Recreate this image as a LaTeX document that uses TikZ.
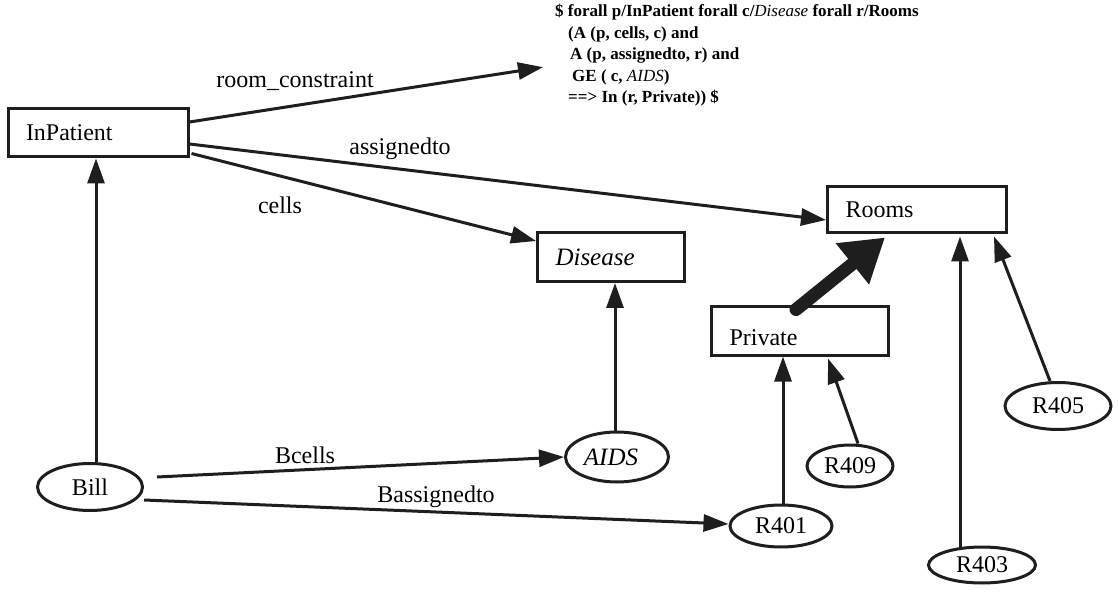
\documentclass[tikz,border=0pt]{standalone}
\usepackage{fontspec}
\setmainfont{Liberation Serif}
\usetikzlibrary{arrows.meta,shapes.geometric,calc}
\definecolor{ink}{HTML}{1E1E1E}
\begin{document}
\begin{tikzpicture}[x=1pt,y=-1pt,
  ink/.style={draw=ink,line width=3pt},
  box/.style={ink,rectangle,inner xsep=18pt,inner ysep=0pt,align=left,font=\fontsize{24}{26}\selectfont},
  oval/.style={ink,ellipse,inner sep=0pt,font=\fontsize{24}{26}\selectfont},
  hand/.style={font=\fontsize{25}{27}\selectfont\itshape},
  arr/.style={draw=ink,line width=3pt,-{Triangle[length=25pt,width=17pt]}},
  fat/.style={draw=ink,line width=13pt,line cap=round,-{Triangle[length=42pt,width=50pt]}},
  lbl/.style={font=\fontsize{24}{26}\selectfont,inner sep=0pt},
  rulefont/.style={font=\bfseries\fontsize{17}{21.5}\selectfont,align=left,inner sep=0pt}]
\useasboundingbox (0,0) rectangle (1118,593);

% classes
\node[box,minimum height=48pt,text width=144pt] (inp) at (98,133) {InPatient};
\node[box,hand,minimum height=49pt,text width=111pt] (dis) at (611,257) {Disease};
\node[box,minimum height=46pt,text width=143pt] (rooms) at (917,210) {Rooms};
\node[box,minimum height=48pt,text width=141pt,text height=30pt,text depth=2pt] (priv) at (800,331) {Private};

% instances
\node[oval,minimum width=105pt,minimum height=47pt] (bill) at (90,487) {Bill};
\node[oval,hand,minimum width=103pt,minimum height=50pt] (aids) at (617,457) {AIDS\hspace*{12pt}};
\node[oval,minimum width=102pt,minimum height=42pt] (r401) at (781,526) {R401};
\node[oval,minimum width=86pt,minimum height=42pt] (r409) at (850,466) {R409};
\node[oval,minimum width=107pt,minimum height=36pt] (r403) at (982,565) {R403};
\node[oval,minimum width=106pt,minimum height=47pt] (r405) at (1058,406) {R405};

% constraint text
\node[rulefont,anchor=north west] (rule) at (555,4) {\$ forall p/InPatient forall c/{\mdseries\itshape Disease} forall r/Rooms\\
\hspace*{13pt}(A (p, cells, c) and\\
\hspace*{15pt}A (p, assignedto, r) and\\
\hspace*{17pt}GE ( c, {\mdseries\itshape AIDS})\\
\hspace*{13pt}==> In (r, Private)) \$};
\coordinate (ruletip) at ([xshift=-12pt,yshift=-12pt]rule.west);

% attributes of InPatient
\draw[arr] ([yshift=11pt]inp.east) -- (ruletip);
\draw[arr] ([yshift=-11pt]inp.east) -- ([yshift=-10pt]rooms.west);
\draw[arr] ([xshift=2pt,yshift=5pt]inp.south east) -- ([yshift=-10pt]dis.north west);
\node[lbl] (l1) at (295,81) {room\_constraint};
\node[lbl] (l2) at (400,149) {assignedto};
\node[lbl] (l3) at (280,205) {cells};

% instance-of links
\draw[arr] ([xshift=6pt]bill.north) -- ([xshift=6pt]bill.north |- inp.south);
\draw[arr] ([xshift=-2pt]aids.north) -- ([xshift=-2pt]aids.north |- dis.south);
\draw[arr] ([xshift=2pt]r401.north) -- ([xshift=2pt]r401.north |- priv.south);
\draw[arr] ([xshift=8pt]r409.north) -- ([xshift=28pt,yshift=-2pt]priv.south);
\draw[arr] ([xshift=-22pt,yshift=-2pt]r403.north) -- ([xshift=-22pt,yshift=-2pt]r403.north |- rooms.south);
\draw[arr] ([xshift=-8pt]r405.north) -- ([xshift=-14pt,yshift=-2pt]rooms.south east);

% Private is a specialisation of Rooms
\draw[fat] ([xshift=-4pt,yshift=-4pt]priv.north) -- ([xshift=-32pt,yshift=-3pt]rooms.south);

% instance attributes
\draw[arr] ([xshift=13pt,yshift=10pt]bill.east) -- (aids.west);
\draw[arr] ([yshift=-13pt]bill.east) -- ([yshift=2pt]r401.west);
\node[lbl] (l4) at (305,455) {Bcells};
\node[lbl] (l5) at (436,497) {Bassignedto};
\end{tikzpicture}
\end{document}
